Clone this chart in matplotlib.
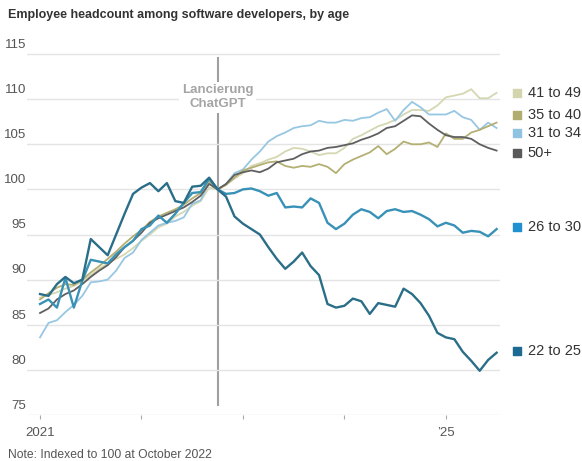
import matplotlib
matplotlib.use("Agg")
import matplotlib.pyplot as plt
import matplotlib.transforms as mtransforms
from matplotlib import font_manager
import numpy as np

# monthly index, Jan 2021 .. Jul 2025 (index 21 = Oct 2022 = 100)
months = np.arange(55)

age_22_25 = [88.4, 88.2, 89.5, 90.3, 89.6, 90.0, 94.5, 93.6, 92.7, 95.0,
             97.3, 99.5, 100.2, 100.7, 99.8, 100.7, 98.7, 98.5, 100.3, 100.4,
             101.3, 100.0, 99.2, 97.0, 96.2, 95.6, 95.0, 93.6, 92.3, 91.2,
             92.0, 93.0, 91.5, 90.5, 87.3, 86.9, 87.1, 87.9, 87.6, 86.2,
             87.4, 87.2, 87.0, 89.0, 88.4, 87.4, 86.0, 84.1, 83.6, 83.4,
             82.0, 81.0, 79.9, 81.1, 81.9]
age_26_30 = [87.3, 87.8, 86.9, 90.2, 86.9, 89.9, 92.2, 92.0, 91.8, 92.8,
             93.6, 94.3, 95.6, 96.0, 97.1, 96.3, 97.3, 98.5, 99.6, 99.7,
             101.2, 100.0, 99.5, 99.6, 100.0, 100.1, 99.8, 99.3, 99.6, 98.0,
             98.1, 98.0, 99.0, 98.5, 96.3, 95.6, 96.2, 97.2, 97.8, 97.5,
             96.8, 97.6, 97.8, 97.5, 97.6, 97.2, 96.7, 95.9, 96.3, 96.0,
             95.2, 95.4, 95.3, 94.8, 95.6]
age_31_34 = [83.6, 85.2, 85.5, 86.4, 87.2, 88.2, 89.7, 89.8, 90.0, 91.0,
             92.4, 93.0, 94.4, 95.2, 96.0, 96.3, 96.5, 96.9, 98.4, 98.8,
             100.8, 100.0, 100.6, 101.8, 102.2, 103.3, 104.2, 105.3, 105.9, 106.3,
             106.8, 107.0, 107.1, 107.6, 107.4, 107.4, 107.7, 107.6, 107.9, 108.0,
             108.5, 108.9, 107.6, 108.8, 109.7, 109.1, 108.3, 108.3, 108.3, 108.7,
             108.0, 107.7, 106.6, 107.4, 106.8]
age_35_40 = [87.8, 88.5, 89.1, 89.5, 89.4, 90.0, 90.8, 91.5, 92.3, 93.1,
             94.0, 94.8, 95.5, 96.4, 97.0, 97.4, 97.8, 98.3, 99.0, 99.6,
             100.9, 100.0, 100.5, 101.3, 102.1, 102.4, 102.7, 103.0, 103.1, 102.6,
             102.4, 102.6, 102.5, 102.8, 102.5, 101.8, 102.8, 103.3, 103.7, 104.1,
             104.8, 103.9, 104.5, 105.3, 105.0, 105.0, 105.2, 104.7, 106.2, 105.6,
             105.6, 106.3, 106.6, 107.0, 107.4]
age_41_49 = [88.0, 88.3, 88.6, 89.0, 89.3, 89.8, 90.5, 91.2, 91.8, 92.3,
             92.8, 93.5, 94.3, 95.0, 95.8, 96.2, 97.0, 97.5, 98.2, 98.7,
             100.2, 100.0, 100.5, 101.2, 101.8, 102.6, 102.9, 103.3, 103.6, 104.2,
             104.6, 104.5, 104.2, 103.8, 104.0, 104.0, 104.6, 105.6, 106.0, 106.5,
             107.0, 107.3, 107.7, 108.3, 108.8, 108.8, 108.7, 109.3, 110.2, 110.4,
             110.6, 111.1, 110.1, 110.1, 110.7]
age_50_plus = [86.3, 86.8, 87.8, 88.4, 88.8, 89.5, 90.3, 91.0, 91.6, 92.5,
               93.6, 94.3, 95.2, 96.3, 96.8, 97.2, 97.6, 98.0, 98.6, 99.3,
               100.6, 100.0, 100.6, 101.6, 101.9, 102.1, 101.9, 102.3, 103.0, 103.2,
               103.4, 103.9, 104.2, 104.3, 104.6, 104.7, 104.9, 105.1, 105.5, 105.8,
               106.2, 106.8, 107.0, 107.6, 108.2, 108.1, 107.3, 106.6, 106.0, 105.8,
               105.8, 105.6, 105.0, 104.6, 104.3]

labels = ['41 to 49', '35 to 40', '31 to 34', '50+', '26 to 30', '22 to 25']
label_y = [110.7, 108.2, 106.2, 104.0, 95.8, 82.1]

y_ticks = [75, 80, 85, 90, 95, 100, 105, 110, 115]
x_ticks = [0, 12, 24, 36, 48]
x_ticklabels = ['2021', '', '', '', '\u201925']
launch_month = 21

names = [f.name for f in font_manager.fontManager.ttflist]
narrow = 'Liberation Sans Narrow' if 'Liberation Sans Narrow' in names else 'Liberation Sans'
plt.rcParams['font.family'] = [narrow, 'DejaVu Sans']

fig = plt.figure(figsize=(5.82, 4.61), dpi=100)
ax = fig.add_axes([0.0464, 0.0998, 0.8127, 0.7928])

series = [
    (age_41_49, '#d5d7b2', '#d3d5ae', 1.3, 2),
    (age_35_40, '#b4af73', '#b1ac6f', 1.3, 3),
    (age_31_34, '#97c7e2', '#8fc3e2', 1.3, 2),
    (age_50_plus, '#5f5f5f', '#5a5a5a', 1.3, 4),
    (age_26_30, '#3891b6', '#1f90d0', 1.7, 5),
    (age_22_25, '#2a6e88', '#1c6a92', 1.7, 6),
]

for (vals, lc, sc, lw, z), lab, ly in zip(series, labels, label_y):
    ax.plot(months, vals, color=lc, lw=lw, zorder=z, solid_joinstyle='round')
    ax.scatter([56.4], [ly], marker='s', s=38, color=sc, clip_on=False, zorder=z)
    ax.text(57.7, ly, lab, fontsize=10.5, color='#333333', va='center',
            ha='left', clip_on=False)

ax.set_xlim(-1.54, 54.4)
ax.set_ylim(75, 115.5)

for s in ax.spines.values():
    s.set_visible(False)
ax.set_yticks(y_ticks)
ax.grid(axis='y', color='#e4e4e4', lw=1, zorder=0)
ax.tick_params(axis='y', left=False, labelleft=False)
trans = mtransforms.blended_transform_factory(ax.transAxes, ax.transData)
for t in y_ticks:
    ax.text(-0.002, t + 0.35, str(t), transform=trans, ha='right', va='bottom',
            fontsize=9.5, color='#555555')

ax.set_xticks(x_ticks)
ax.set_xticklabels(x_ticklabels, fontsize=9.5, color='#555555')
ax.tick_params(axis='x', length=3, color='#aaaaaa', pad=6)

ax.axvline(launch_month, ymin=0.027, ymax=0.978, color='#a0a0a0', lw=1.5, zorder=1)
ax.text(launch_month, 110.2, 'Lancierung\nChatGPT', ha='center', va='center',
        fontsize=9.5, fontweight='bold', color='#a5a5a5', linespacing=1.2,
        bbox=dict(facecolor='white', edgecolor='none', pad=2), zorder=2)

fig.text(8 / 582, 1 - 15 / 461, 'Employee headcount among software developers, by age',
         fontsize=9, fontweight='bold', color='#333333', va='center', ha='left')
fig.text(8 / 582, 1 - 455 / 461, 'Note: Indexed to 100 at October 2022',
         fontsize=8.7, color='#555555', va='center', ha='left')

fig.savefig('out.png', dpi=100)
